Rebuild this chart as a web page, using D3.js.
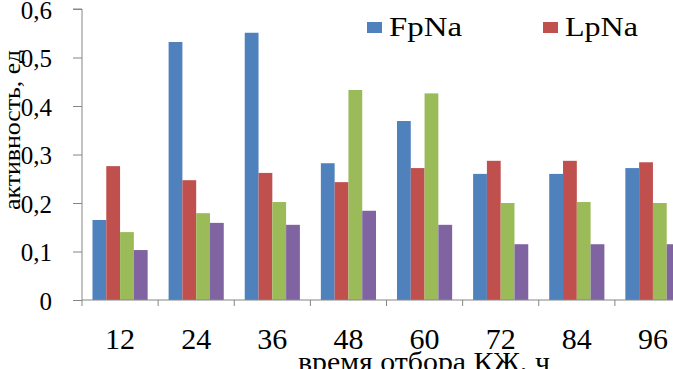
<!DOCTYPE html>
<html>
<head>
<meta charset="utf-8">
<script src="https://cdn.jsdelivr.net/npm/d3@7"></script>
<style>
  body { margin: 0; background: #fff; }
  svg { display: block; }
  text { font-family: "Liberation Serif", "Times New Roman", serif; fill: #000; }
</style>
</head>
<body>
<div id="chart"></div>
<script>
const width = 673, height = 369;

const categories = ["12", "24", "36", "48", "60", "72", "84", "96"];
const seriesNames = ["FpNa", "LpNa", "S3", "S4"];
const fpna = [0.165, 0.532, 0.551, 0.282, 0.369, 0.260, 0.260, 0.272];
const lpna = [0.276, 0.247, 0.262, 0.243, 0.272, 0.287, 0.287, 0.284];
const s3 = [0.140, 0.179, 0.202, 0.433, 0.426, 0.200, 0.202, 0.200];
const s4 = [0.103, 0.159, 0.155, 0.184, 0.155, 0.115, 0.115, 0.115];
const yTicks = [0, 0.1, 0.2, 0.3, 0.4, 0.5, 0.6];
const colors = ["#4F81BD", "#C0504D", "#9BBB59", "#8064A2"];

const allSeries = [fpna, lpna, s3, s4];

const svg = d3.select("#chart")
  .append("svg")
  .attr("width", width)
  .attr("height", height);

const x0 = d3.scaleBand()
  .domain(categories)
  .range([82, 691])
  .padding(0);

const x1 = d3.scaleBand()
  .domain(seriesNames)
  .range([0, x0.bandwidth()])
  .paddingInner(0)
  .paddingOuter(0.76);

const y = d3.scaleLinear()
  .domain([0, 0.6])
  .range([300, 9]);

// bars
const groups = svg.append("g")
  .selectAll("g")
  .data(categories)
  .enter()
  .append("g")
  .attr("transform", d => `translate(${x0(d)},0)`);

groups.selectAll("rect")
  .data((c, i) => allSeries.map((s, k) => ({ name: seriesNames[k], value: s[i], k })))
  .enter()
  .append("rect")
  .attr("x", d => x1(d.name))
  .attr("width", x1.bandwidth())
  .attr("y", d => y(d.value))
  .attr("height", d => y(0) - y(d.value))
  .style("fill", d => colors[d.k]);

// y axis
const fmt = d => d === 0 ? "0" : d3.format(".1f")(d).replace(".", ",");
const yAxis = svg.append("g")
  .attr("transform", "translate(82,0)")
  .call(d3.axisLeft(y).tickValues(yTicks).tickFormat(fmt).tickSize(9).tickPadding(21));
yAxis.select(".domain").attr("stroke", "#868686").attr("d", `M-9,${y(0.6)}H0V${y(0)}`);
yAxis.selectAll(".tick line").attr("stroke", "#868686");
yAxis.selectAll(".tick text")
  .style("font-size", "25px")
  .attr("dy", "0.36em");

// x axis: line, boundary ticks, centered labels
const xAxis = svg.append("g")
  .attr("transform", `translate(0,${y(0)})`)
  .call(d3.axisBottom(x0).tickSize(0).tickPadding(28));
xAxis.select(".domain").attr("stroke", "#868686").attr("d", `M82,0H${width}`);
xAxis.selectAll(".tick text")
  .style("font-size", "30px")
  .attr("dy", "0.71em");

const bounds = categories.map(c => x0(c)).concat([x0.range()[1]]);
xAxis.selectAll(".bound")
  .data(bounds)
  .enter()
  .append("line")
  .attr("class", "bound")
  .attr("x1", d => d)
  .attr("x2", d => d)
  .attr("y1", 0)
  .attr("y2", 6)
  .attr("stroke", "#868686");

// axis titles
svg.append("text")
  .attr("transform", "translate(20,130) rotate(-90)")
  .attr("text-anchor", "middle")
  .attr("textLength", 160)
  .attr("lengthAdjust", "spacingAndGlyphs")
  .style("font-size", "24px")
  .text("активность, ед");

svg.append("text")
  .attr("x", 298)
  .attr("y", 371)
  .attr("textLength", 252)
  .attr("lengthAdjust", "spacingAndGlyphs")
  .style("font-size", "28px")
  .text("время отбора КЖ, ч");

// legend (first two entries visible)
const legendX = [367, 543];
const legend = svg.append("g")
  .selectAll("g")
  .data(seriesNames.slice(0, 2))
  .enter()
  .append("g")
  .attr("transform", (d, i) => `translate(${legendX[i]},0)`);

legend.append("rect")
  .attr("x", 0)
  .attr("y", 22)
  .attr("width", 15)
  .attr("height", 11)
  .style("fill", (d, i) => colors[i]);

legend.append("text")
  .attr("x", 22)
  .attr("y", 36)
  .attr("textLength", 73)
  .attr("lengthAdjust", "spacingAndGlyphs")
  .style("font-size", "27px")
  .text(d => d);
</script>
</body>
</html>
